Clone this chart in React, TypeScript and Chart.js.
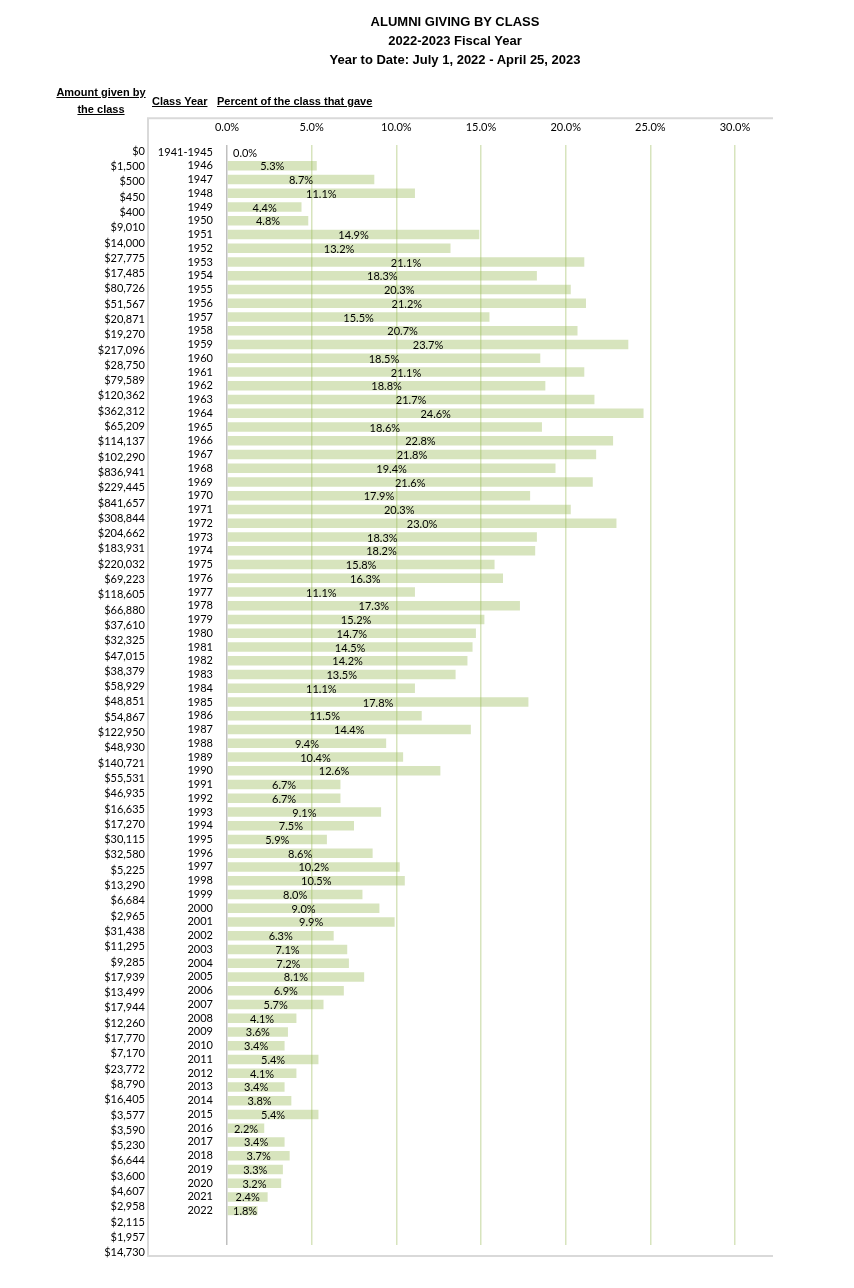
import React, { useEffect, useRef } from "react";
import { Chart, registerables } from "chart.js";

Chart.register(...registerables);

const years = [
  "1941-1945", "1946", "1947", "1948", "1949", "1950", "1951", "1952", "1953", "1954",
  "1955", "1956", "1957", "1958", "1959", "1960", "1961", "1962", "1963", "1964",
  "1965", "1966", "1967", "1968", "1969", "1970", "1971", "1972", "1973", "1974",
  "1975", "1976", "1977", "1978", "1979", "1980", "1981", "1982", "1983", "1984",
  "1985", "1986", "1987", "1988", "1989", "1990", "1991", "1992", "1993", "1994",
  "1995", "1996", "1997", "1998", "1999", "2000", "2001", "2002", "2003", "2004",
  "2005", "2006", "2007", "2008", "2009", "2010", "2011", "2012", "2013", "2014",
  "2015", "2016", "2017", "2018", "2019", "2020", "2021", "2022",
];

const percents = [
  0.0, 5.3, 8.7, 11.1, 4.4, 4.8, 14.9, 13.2, 21.1, 18.3,
  20.3, 21.2, 15.5, 20.7, 23.7, 18.5, 21.1, 18.8, 21.7, 24.6,
  18.6, 22.8, 21.8, 19.4, 21.6, 17.9, 20.3, 23.0, 18.3, 18.2,
  15.8, 16.3, 11.1, 17.3, 15.2, 14.7, 14.5, 14.2, 13.5, 11.1,
  17.8, 11.5, 14.4, 9.4, 10.4, 12.6, 6.7, 6.7, 9.1, 7.5,
  5.9, 8.6, 10.2, 10.5, 8.0, 9.0, 9.9, 6.3, 7.1, 7.2,
  8.1, 6.9, 5.7, 4.1, 3.6, 3.4, 5.4, 4.1, 3.4, 3.8,
  5.4, 2.2, 3.4, 3.7, 3.3, 3.2, 2.4, 1.8,
];

const amounts = [
  "$0", "$1,500", "$500", "$450", "$400", "$9,010", "$14,000", "$27,775", "$17,485", "$80,726",
  "$51,567", "$20,871", "$19,270", "$217,096", "$28,750", "$79,589", "$120,362", "$362,312", "$65,209", "$114,137",
  "$102,290", "$836,941", "$229,445", "$841,657", "$308,844", "$204,662", "$183,931", "$220,032", "$69,223", "$118,605",
  "$66,880", "$37,610", "$32,325", "$47,015", "$38,379", "$58,929", "$48,851", "$54,867", "$122,950", "$48,930",
  "$140,721", "$55,531", "$46,935", "$16,635", "$17,270", "$30,115", "$32,580", "$5,225", "$13,290", "$6,684",
  "$2,965", "$31,438", "$11,295", "$9,285", "$17,939", "$13,499", "$17,944", "$12,260", "$17,770", "$7,170",
  "$23,772", "$8,790", "$16,405", "$3,577", "$3,590", "$5,230", "$6,644", "$3,600", "$4,607", "$2,958",
  "$2,115", "$1,957", "$14,730",
];

const xTickValues = [0, 5, 10, 15, 20, 25, 30];

const titleLines = [
  "ALUMNI GIVING BY CLASS",
  "2022-2023 Fiscal Year",
  "Year to Date: July 1, 2022 - April 25, 2023",
];

const FONT = "Lato";

export default function App() {
  const ref = useRef<HTMLCanvasElement>(null);

  useEffect(() => {
    const canvas = ref.current;
    if (!canvas) return;

    const boxPlugin = {
      id: "frameBox",
      beforeDraw(chart: any) {
        const { ctx, chartArea } = chart;
        const yS = chart.scales.y;
        const left = yS.left;
        const top = chartArea.top - 27;
        const bottom = chartArea.bottom + 11;
        const right = chartArea.right + 38;
        ctx.save();
        ctx.strokeStyle = "#d9d9d9";
        ctx.lineWidth = 2;
        ctx.beginPath();
        ctx.moveTo(right, top);
        ctx.lineTo(left, top);
        ctx.lineTo(left, bottom);
        ctx.lineTo(right, bottom);
        ctx.stroke();
        ctx.restore();
      },
    };

    const labelPlugin = {
      id: "barLabels",
      afterDatasetsDraw(chart: any) {
        const { ctx, chartArea } = chart;
        const meta = chart.getDatasetMeta(0);
        ctx.save();
        ctx.font = `11px ${FONT}`;
        ctx.fillStyle = "#000000";
        ctx.textAlign = "center";
        ctx.textBaseline = "middle";
        meta.data.forEach((el: any, i: number) => {
          const text = percents[i].toFixed(1) + "%";
          const w = ctx.measureText(text).width;
          const cx = Math.max((el.base + el.x) / 2, chartArea.left + 6 + w / 2);
          ctx.fillText(text, cx, el.y + 1);
        });
        ctx.restore();
      },
    };

    const chart = new Chart(canvas, {
      type: "bar",
      data: {
        datasets: [
          {
            data: percents.map((v, i) => ({ x: v, y: i })),
            backgroundColor: "rgba(155,187,89,0.4)",
            borderWidth: 0,
            categoryPercentage: 1,
            barPercentage: 0.69,
          } as any,
        ],
      },
      options: {
        indexAxis: "y",
        responsive: false,
        animation: false,
        layout: { padding: { top: 110, left: 0, right: 119, bottom: 43 } },
        plugins: {
          legend: { display: false },
          tooltip: { enabled: false },
          title: { display: false },
        },
        scales: {
          x: {
            type: "linear",
            position: "top",
            min: 0,
            max: 30,
            bounds: "data",
            offset: false,
            afterBuildTicks: (s: any) => {
              s.ticks = xTickValues.map((v) => ({ value: v }));
            },
            ticks: {
              autoSkip: false,
              padding: 11,
              color: "#000000",
              font: { family: FONT, size: 11 },
              callback: (v: any) => Number(v).toFixed(1) + "%",
            },
            grid: {
              drawTicks: false,
              lineWidth: 1.5,
              color: (c: any) => (c.tick && c.tick.value === 0 ? "#bfbfbf" : "#d7e4bd"),
            },
            border: { display: false },
          },
          y: {
            type: "linear",
            position: "left",
            reverse: true,
            min: -0.5,
            max: 79.5,
            bounds: "data",
            offset: false,
            weight: 0,
            afterBuildTicks: (s: any) => {
              s.ticks = years.map((_, i) => ({ value: i }));
            },
            afterFit: (s: any) => {
              s.width = 79;
            },
            ticks: {
              autoSkip: false,
              padding: 14,
              color: "#000000",
              font: { family: FONT, size: 11 },
              callback: (v: any) => years[Number(v)] ?? "",
            },
            grid: { display: false, drawTicks: false, offset: false },
            border: { display: false },
          },
          amt: {
            type: "linear",
            position: "left",
            reverse: true,
            min: -0.39,
            max: 71.5,
            bounds: "data",
            offset: false,
            weight: 1,
            afterBuildTicks: (s: any) => {
              s.ticks = amounts.map((_, i) => ({ value: i }));
            },
            afterFit: (s: any) => {
              s.width = 148;
            },
            ticks: {
              autoSkip: false,
              padding: 3,
              color: "#000000",
              font: { family: FONT, size: 11 },
              callback: (v: any) => amounts[Number(v)] ?? "",
            },
            grid: { display: false, drawTicks: false, offset: false },
            border: { display: false },
          },
        } as any,
      },
      plugins: [boxPlugin, labelPlugin],
    });

    return () => {
      chart.destroy();
    };
  }, []);

  const headStyle: React.CSSProperties = {
    position: "absolute",
    fontFamily: "'Liberation Sans', Arial, sans-serif",
    fontWeight: "bold",
    fontSize: 11,
    lineHeight: "17px",
    textDecoration: "underline",
    color: "#000",
    whiteSpace: "nowrap",
  };

  return (
    <div style={{ position: "absolute", left: 0, top: 0, width: 854, height: 1288, background: "#fff" }}>
      <canvas
        ref={ref}
        width={854}
        height={1288}
        style={{ position: "absolute", left: 0, top: 0, width: 854, height: 1288 }}
      />
      <div
        style={{
          position: "absolute",
          left: 0,
          top: 12,
          width: 910,
          textAlign: "center",
          fontFamily: "'Liberation Sans', Arial, sans-serif",
          fontWeight: "bold",
          fontSize: 13,
          lineHeight: "19px",
          color: "#000",
        }}
      >
        {titleLines.map((t) => (
          <div key={t}>{t}</div>
        ))}
      </div>
      <div style={{ ...headStyle, left: 51, top: 84, width: 100, textAlign: "center" }}>
        Amount given by
        <br />
        the class
      </div>
      <div style={{ ...headStyle, left: 152, top: 93 }}>Class Year</div>
      <div style={{ ...headStyle, left: 217, top: 93 }}>Percent of the class that gave</div>
    </div>
  );
}
